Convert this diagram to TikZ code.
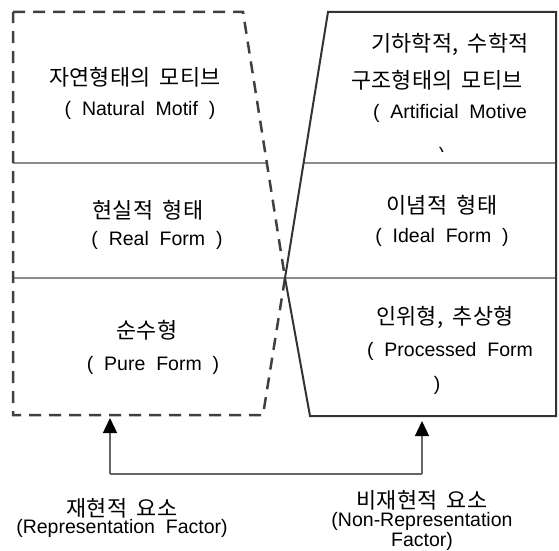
\documentclass[tikz,border=0pt]{standalone}
\usepackage{fontspec}
\setmainfont{Liberation Sans}[WordSpace=2]
\newfontfamily\kr{Noto Sans CJK KR}[WordSpace=2,Scale=1.12]
\usetikzlibrary{%
  arrows.meta,%
  positioning% wg. " of "
}

\begin{document}
\begin{tikzpicture}
  [
  x=1bp, y=-1bp,
  font=\fontsize{19.5bp}{23bp}\selectfont, >={Triangle[width=14bp,length=15bp,color=black]},
  dashbox/.style={draw=black!75, dash pattern=on 12bp off 8bp, line width=2.5bp},
  solidbox/.style={draw=black!80, line width=2bp},
  divider/.style={draw=black!45, line width=2bp},
  txt/.style={inner sep=0pt, text=black},
  link/.style={draw=black!60, line width=1.3bp}
  ]

\useasboundingbox (0,0) rectangle (559,551);

% crossing point of the two outlines
\coordinate (cross) at (285,278);

\draw[divider] (13,163) -- (267,163);
\draw[divider] (303,163) -- (556,163);
\draw[divider] (13,278) -- (556,278);

\draw[dashbox] (13,12) -- (243,12) -- (cross) -- (263,415) -- (13,415) -- cycle;
\draw[solidbox] (328,12) -- (556,12) -- (556,416) -- (310,416) -- (cross) -- cycle;

% left column
\node[txt] (natkr) at (135,77) {\kr 자연형태의 모티브};
\node[txt] (naten) at (140,110) {( Natural Motif )};
\node[txt] (realkr) at (148,210) {\kr 현실적 형태};
\node[txt] (realen) at (157,240) {( Real Form )};
\node[txt] (purekr) at (147,330) {\kr 순수형};
\node[txt] (pureen) at (153,365) {( Pure Form )};

% right column
\node[txt] (artkra) at (450,45) {\kr 기하학적, 수학적};
\node[txt] (artkrb) at (437,80) {\kr 구조형태의 모티브};
\node[txt] (arten) at (450,113) {( Artificial Motive};
\begin{scope}
  \clip (330,130) rectangle (556,152);
  \node[txt, anchor=north] (artclose) at (442,147) {)};
\end{scope}
\node[txt] (idealkr) at (442,205) {\kr 이념적 형태};
\node[txt] (idealen) at (442,237) {( Ideal Form )};
\node[txt] (prockr) at (445,317) {\kr 인위형, 추상형};
\node[txt] (procen) at (450,351) {( Processed Form};
\node[txt] (procclose) at (437,385) {)};

% factors
\node[txt] (repkr) at (122,508) {\kr 재현적 요소};
\node[txt] (repen) at (122,528) {(Representation Factor)};
\node[txt] (nonkr) at (422,500) {\kr 비재현적 요소};
\node[txt] (nonen) at (422,521) {(Non-Representation};
\node[txt] (nonenb) at (422,541) {Factor)};

\coordinate (lfoot) at (110,474);
\coordinate (rfoot) at (422,474);
\coordinate (ltip) at (110,418);
\coordinate (rtip) at (422,421);

\draw[link] (lfoot) -- (rfoot);
\draw[link, ->] (lfoot) -- (ltip);
\draw[link, ->] (rfoot) -- (rtip);

\end{tikzpicture}
\end{document}
